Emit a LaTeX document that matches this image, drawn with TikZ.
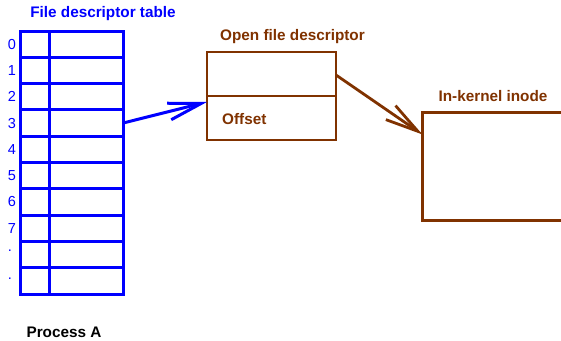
\documentclass[tikz,border=0pt]{standalone}
\usepackage{fontspec}
\setmainfont{Liberation Sans}
\usetikzlibrary{arrows.meta}
\definecolor{fdblue}{RGB}{0,0,255}
\definecolor{fdbrown}{RGB}{128,50,0}
\begin{document}
\begin{tikzpicture}[x=1pt,y=-1pt,
  cell/.style={draw=fdblue,line width=3pt,minimum width=103pt,minimum height=26.3pt,inner sep=0pt,outer sep=0pt},
  idx/.style={text=fdblue,font=\fontsize{14.5}{16}\selectfont,inner sep=0pt},
  blab/.style={font=\fontsize{15.3}{18}\selectfont\bfseries,inner sep=0pt},
  bbox/.style={draw=fdbrown,line width=2.8pt,inner sep=0pt,outer sep=0pt},
  ptr/.style={line width=3pt,-{Straight Barb[length=33pt,width=17pt]}}]
\useasboundingbox (0,0) rectangle (561,340);
\clip (0,0) rectangle (561,340);
% file descriptor table
\foreach \i in {0,...,9}{
  \node[cell] (r\i) at (71.5,{44.15+26.3*\i}) {};
}
\draw[fdblue,line width=3pt] (49,31) -- (49,294);
\foreach \i in {0,...,7}{
  \node[idx] (n\i) at (12,{44.15+26.3*\i}) {\i};
}
\node[idx,anchor=base] (d1) at (10,251) {.};
\node[idx,anchor=base] (d2) at (10,279) {.};
\node[blab,text=fdblue] (fdt) at (103,14) {File descriptor table};
% open file descriptor
\node[bbox,minimum width=129pt,minimum height=88pt] (ofd) at (271.5,96) {};
\draw[fdbrown,line width=2.8pt] (ofd.west) -- (ofd.east);
\node[blab,text=fdbrown] (ofdt) at (292.5,37) {Open file descriptor};
\node[blab,text=fdbrown,anchor=west] (off) at (222,119) {Offset};
% inode
\node[bbox,minimum width=143pt,minimum height=108.5pt] (inode) at (494,166.5) {};
\node[blab,text=fdbrown] (inodet) at (493,96) {In-kernel inode};
% process label
\node[blab,text=black] (proc) at (64,332) {Process A};
% arrows
\draw[ptr,fdblue] (r3.east) -- ([yshift=-6pt]ofd.west);
\draw[ptr,fdbrown,line width=2.8pt] ([yshift=21pt]ofd.east) -- ([yshift=32pt]inode.west);
\end{tikzpicture}
\end{document}
